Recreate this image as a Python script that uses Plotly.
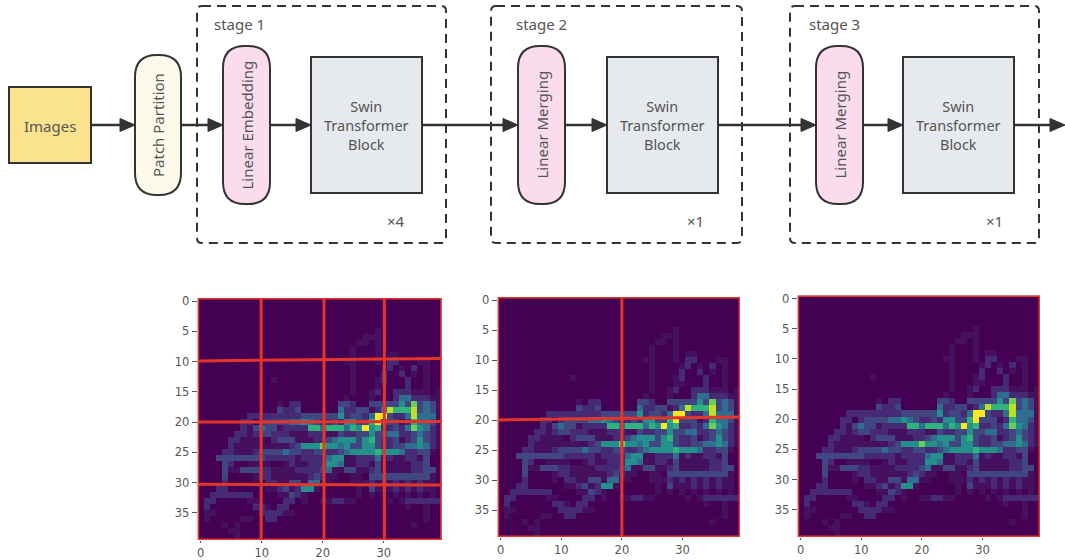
import plotly.graph_objects as go

# ---------- data ----------
# Activation map, digit per cell (0-9), row 0 at the top, grouped in tens of columns
ROWS = [
 "0000000000 0000000000 0000000000 0000000000",
 "0000000000 0000000000 0000000000 0000000000",
 "0000000000 0000000000 0000000000 0000000000",
 "0000000000 0000000000 0000000000 0000000000",
 "0000000000 0000000000 0000000000 0000000000",
 "0000000000 0000000000 0000000001 0000000000",
 "0000000000 0000000000 0000000111 0000000000",
 "0000000000 0000000000 0000001101 0000000000",
 "0000000000 0000000000 0000010001 0000000000",
 "0000000000 0000000000 0000010001 0110000000",
 "0000000000 0000000000 0000110001 0220001100",
 "0000000000 0000000000 0000010000 1201020100",
 "0000000000 0000000000 0000010000 2002010100",
 "0000000000 0010000000 0000010001 2000200100",
 "0000000000 0000000000 0000010001 1000200100",
 "0000000000 0000000000 0000010012 0022211101",
 "0000000000 0000000000 0000100010 0024422211",
 "0000000000 0001022000 0003320033 3335373431",
 "0000000000 0003223000 0004223312 4866683431",
 "0000000022 2222222333 3335233249 9322484441",
 "0000000220 2333344543 2232553369 3331264431",
 "0000000213 4331222266 4666465956 2232475421",
 "0000002212 3322211122 2113223353 3442234321",
 "0000022111 1023331112 2345553563 2231235321",
 "0000021111 1111123555 7554533553 2233445421",
 "0000221112 3333433223 3223455556 5554223310",
 "0003333333 3222221222 2455112224 1211221300",
 "0000320011 1100121122 2554112213 1111122300",
 "0000311333 2211112222 3411331123 1111122330",
 "0000300001 2211111123 2110011033 3333333310",
 "0000200001 0221133144 1100011121 2121212110",
 "0002200000 0112312551 0000001031 1121212110",
 "0022222220 0001132100 0000001010 1010101010",
 "0220000011 0000220100 1122110000 0101222222",
 "0200000002 2102200000 0000000000 0000100100",
 "0110000000 2222110000 0000000000 0000000100",
 "0100000110 0220000000 0000000000 0000000100",
 "0000101000 0000000000 0000000000 0000010000",
 "0000011000 0000000000 0000000000 0000000000",
 "0000001000 0000000000 0000000000 0000000000",
]
X_TICKS = [0, 10, 20, 30]
Y_TICKS = [0, 5, 10, 15, 20, 25, 30, 35]
GRID_V = [[9.9, 20.2, 30.1], [20.0], []]                  # red vertical window lines
GRID_H = [[(9.9, 9.5), (20.0, 19.9), (30.3, 30.4)],        # red lines, (left y, right y)
          [(20.0, 19.5)], []]
STAGE_NAMES = ["stage 1", "stage 2", "stage 3"]
STAGE_REPEATS = ["×4", "×1", "×1"]
FIRST_BLOCKS = ["Linear Embedding", "Linear Merging", "Linear Merging"]
DIGIT_COLOURS = ["#440154", "#45115f", "#462a75", "#414580", "#2f6e8e",
                 "#24908c", "#30b27c", "#6ccd5a", "#bfdf26", "#fde725"]

z = [[int(c) for c in r.replace(" ", "")] for r in ROWS]
scale = [[d / 9, c] for d, c in enumerate(DIGIT_COLOURS)]

W, H = 1065, 560
INK = "#333333"
TEXT = "#555555"
RED = "#e5352a"
FONT = "Noto Sans"

fig = go.Figure()
shapes, notes = [], []

# ---------- heatmap panels ----------
PANELS = [(197.7, 441.7, 298, 540), (497.7, 740, 297, 537), (797.7, 1040, 295.5, 537)]
for i, (x0, x1, y0, y1) in enumerate(PANELS):
    s = str(i + 1)
    fig.add_trace(go.Heatmap(z=z, colorscale=scale, zmin=0, zmax=9, showscale=False,
                             xaxis="x" + s, yaxis="y" + s, hoverinfo="skip"))
    axis = dict(showgrid=False, zeroline=False, ticks="outside", tickwidth=1,
                automargin=False, tickcolor=TEXT,
                tickfont=dict(family="DejaVu Sans", size=11.5, color=TEXT))
    fig.layout["xaxis" + s] = dict(axis, domain=[x0 / W, x1 / W], range=[-0.5, 39.5], ticklen=2,
                                   tickvals=X_TICKS, anchor="y" + s)
    fig.layout["yaxis" + s] = dict(axis, domain=[1 - y1 / H, 1 - y0 / H], range=[39.5, -0.5], ticklen=5,
                                   tickvals=Y_TICKS, anchor="x" + s)
    red = dict(color=RED, width=3)
    ref = dict(xref="x" + s, yref="y" + s, layer="above")
    for v in GRID_V[i]:
        shapes.append(dict(type="line", x0=v, x1=v, y0=-0.5, y1=39.5, line=red, **ref))
    for a, b in GRID_H[i]:
        shapes.append(dict(type="line", x0=-0.5, x1=39.5, y0=a, y1=b, line=red, **ref))
    shapes.append(dict(type="rect", x0=-0.5, x1=39.5, y0=-0.5, y1=39.5, line=red, **ref))

# ---------- flow diagram, on its own hidden pixel-sized axes ----------
fig.layout.xaxis4 = dict(domain=[0, 1], range=[0, W], visible=False, anchor="y4", automargin=False)
fig.layout.yaxis4 = dict(domain=[0, 1], range=[H, 0], visible=False, anchor="x4", automargin=False)
fig.add_trace(go.Scatter(x=[], y=[], xaxis="x4", yaxis="y4", showlegend=False))
dref = dict(xref="x4", yref="y4")


def rrect(x0, y0, x1, y1, r):
    return (f"M{x0+r},{y0} L{x1-r},{y0} Q{x1},{y0} {x1},{y0+r} L{x1},{y1-r} Q{x1},{y1} {x1-r},{y1} "
            f"L{x0+r},{y1} Q{x0},{y1} {x0},{y1-r} L{x0},{y0+r} Q{x0},{y0} {x0+r},{y0} Z")


def box(x0, y0, x1, y1, fill, r=0):
    shapes.append(dict(type="path", path=rrect(x0, y0, x1, y1, r), fillcolor=fill,
                       line=dict(color=INK, width=2), **dref))


def label(x, y, text, size=15, angle=0, anchor="center"):
    notes.append(dict(x=x, y=y, text=text, showarrow=False, textangle=angle, xanchor=anchor,
                      yanchor="middle", font=dict(family=FONT, size=size, color=TEXT), **dref))


def arrow(x0, x1, y=125):
    shapes.append(dict(type="line", x0=x0, x1=x1 - 10, y0=y, y1=y,
                       line=dict(color=INK, width=2.5), **dref))
    shapes.append(dict(type="path", path=f"M{x1-15},{y-6.5} L{x1},{y} L{x1-15},{y+6.5} Z",
                       fillcolor=INK, line=dict(color=INK, width=1), **dref))


for a, b in [(92, 135), (181, 223), (269, 311), (422, 518), (565, 607), (718, 816), (863, 903), (1014, 1065)]:
    arrow(a, b)

box(9, 87, 91, 163, "#fbe38e")
label(50, 125.5, "Images")
box(135, 55, 181, 195, "#fdfaec", r=22)
label(158, 125, "Patch Partition", angle=-90)

STAGE_BOX = [(197, 446), (491, 742), (790, 1039)]
PILL_X = [223, 518, 816]
BLOCK_X = [311, 607, 903]
LABEL_X = [212, 514, 807]
TIMES_X = [396, 695, 994]
for i in range(3):
    sx0, sx1 = STAGE_BOX[i]
    shapes.append(dict(type="path", path=rrect(sx0, 6, sx1, 243, 5),
                       line=dict(color=INK, width=2, dash="9px,6px"), **dref))
    box(PILL_X[i], 46, PILL_X[i] + 47, 204, "#fadcec", r=22)
    label(PILL_X[i] + 23.5, 125, FIRST_BLOCKS[i], angle=-90)
    box(BLOCK_X[i], 57, BLOCK_X[i] + 111, 193, "#e6e9ed")
    label(BLOCK_X[i] + 55.5, 125, "Swin<br>Transformer<br>Block", size=14.5)
    label(LABEL_X[i], 23.5, STAGE_NAMES[i], size=15, anchor="left")
    label(TIMES_X[i], 221, STAGE_REPEATS[i], size=15)

fig.update_layout(width=W, height=H, margin=dict(l=0, r=0, t=0, b=0, autoexpand=False),
                  showlegend=False, paper_bgcolor="white", plot_bgcolor="rgba(0,0,0,0)",
                  shapes=shapes, annotations=notes)

fig.write_html("out.html", config={"displayModeBar": False},
               post_script="document.body.style.margin='0';document.body.style.overflow='hidden';")
